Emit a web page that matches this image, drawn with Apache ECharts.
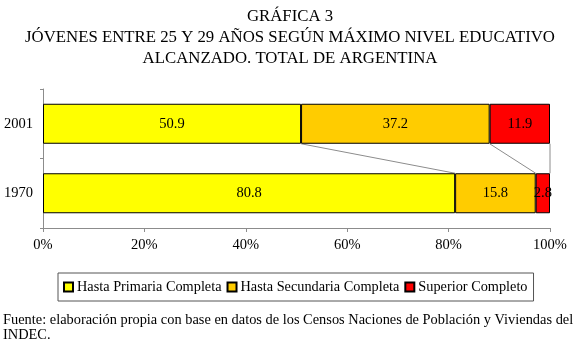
<!DOCTYPE html>
<html>
<head>
<meta charset="utf-8">
<script src="https://cdn.jsdelivr.net/npm/echarts@6/dist/echarts.min.js"></script>
<style>
  html, body { margin: 0; padding: 0; background: #fff; }
  #chart { width: 580px; height: 345px; }
</style>
</head>
<body>
<div id="chart"></div>
<script>
// datos de la gráfica
const years = ['2001', '1970'];
const primaria = [50.9, 80.8];
const secundaria = [37.2, 15.8];
const superior = [11.9, 2.8];
const xTicks = [0, 20, 40, 60, 80, 100];

const FONT = '"Liberation Serif", "Times New Roman", serif';
const BAR_W = 40;

// barra 100% apilada: cada año se normaliza a su total
const totals = years.map((y, i) => primaria[i] + secundaria[i] + superior[i]);
const share = (arr) => arr.map((v, i) => ({ value: v / totals[i] * 100, raw: v }));

// líneas de serie: unen el borde acumulado de cada segmento entre 2001 y 1970
const cum = (i) => {
  const a = primaria[i] / totals[i] * 100;
  const b = a + secundaria[i] / totals[i] * 100;
  return [a, b, 100];
};
const seriesLines = cum(0).map((v, k) => [v, cum(1)[k]]);

const chart = echarts.init(document.getElementById('chart'));

const barSeries = (name, data, color) => ({
  name: name,
  type: 'bar',
  stack: 'total',
  barWidth: BAR_W,
  data: share(data),
  itemStyle: { color: color, borderColor: '#000', borderWidth: 1 },
  label: {
    show: true,
    position: 'inside',
    color: '#000',
    fontFamily: FONT,
    fontSize: 14.5,
    formatter: (p) => p.data.raw.toFixed(1)
  },
  emphasis: { disabled: true }
});

const option = {
  animation: false,
  textStyle: { fontFamily: FONT },
  title: {
    text: 'GRÁFICA 3\nJÓVENES ENTRE 25 Y 29 AÑOS SEGÚN MÁXIMO NIVEL EDUCATIVO\nALCANZADO. TOTAL DE ARGENTINA',
    left: 'center',
    top: 1,
    textStyle: {
      fontFamily: FONT,
      fontSize: 16.8,
      fontWeight: 'normal',
      color: '#000',
      lineHeight: 21,
      align: 'center'
    }
  },
  grid: { left: 43, right: 30, top: 89, bottom: 117 },
  xAxis: {
    type: 'value',
    min: xTicks[0],
    max: xTicks[xTicks.length - 1],
    interval: xTicks[1] - xTicks[0],
    axisLine: { show: true, lineStyle: { color: '#8c8c8c' } },
    axisTick: { show: true, length: 4, lineStyle: { color: '#8c8c8c' } },
    splitLine: { show: false },
    axisLabel: {
      formatter: '{value}%',
      color: '#000',
      fontFamily: FONT,
      fontSize: 14.5,
      margin: 10
    }
  },
  yAxis: {
    type: 'category',
    data: years,
    inverse: true,
    axisLine: { show: true, lineStyle: { color: '#8c8c8c' } },
    axisTick: { show: true, length: 3, lineStyle: { color: '#8c8c8c' } },
    axisLabel: { color: '#000', fontFamily: FONT, fontSize: 14.5, margin: 10 }
  },
  legend: {
    data: ['Hasta Primaria Completa', 'Hasta Secundaria Completa', 'Superior Completo'],
    left: 58,
    top: 273,
    orient: 'horizontal',
    icon: 'rect',
    itemWidth: 9,
    itemHeight: 9,
    itemGap: 5,
    padding: [7, 6, 7, 5],
    borderColor: '#555',
    borderWidth: 1,
    textStyle: { color: '#000', fontFamily: FONT, fontSize: 14.3, padding: [0, 0, 0, -1] }
  },
  series: [
    barSeries('Hasta Primaria Completa', primaria, '#ffff00'),
    barSeries('Hasta Secundaria Completa', secundaria, '#ffcc00'),
    barSeries('Superior Completo', superior, '#ff0000'),
    {
      type: 'custom',
      name: 'lineas',
      encode: { x: [0, 1] },
      data: seriesLines,
      silent: true,
      z: 1,
      renderItem: function (params, api) {
        const p1 = api.coord([api.value(0), 0]);
        const p2 = api.coord([api.value(1), 1]);
        return {
          type: 'line',
          shape: { x1: p1[0], y1: p1[1] + BAR_W / 2, x2: p2[0], y2: p2[1] - BAR_W / 2 },
          style: { stroke: '#8c8c8c', lineWidth: 1 }
        };
      }
    }
  ],
  graphic: [
    {
      type: 'text',
      left: 3,
      top: 313,
      style: {
        text: 'Fuente: elaboración propia con base en datos de los Censos Naciones de Población y Viviendas del\nINDEC.',
        font: '14.4px ' + FONT,
        fill: '#000',
        lineHeight: 15
      }
    }
  ]
};

chart.setOption(option);
</script>
</body>
</html>
